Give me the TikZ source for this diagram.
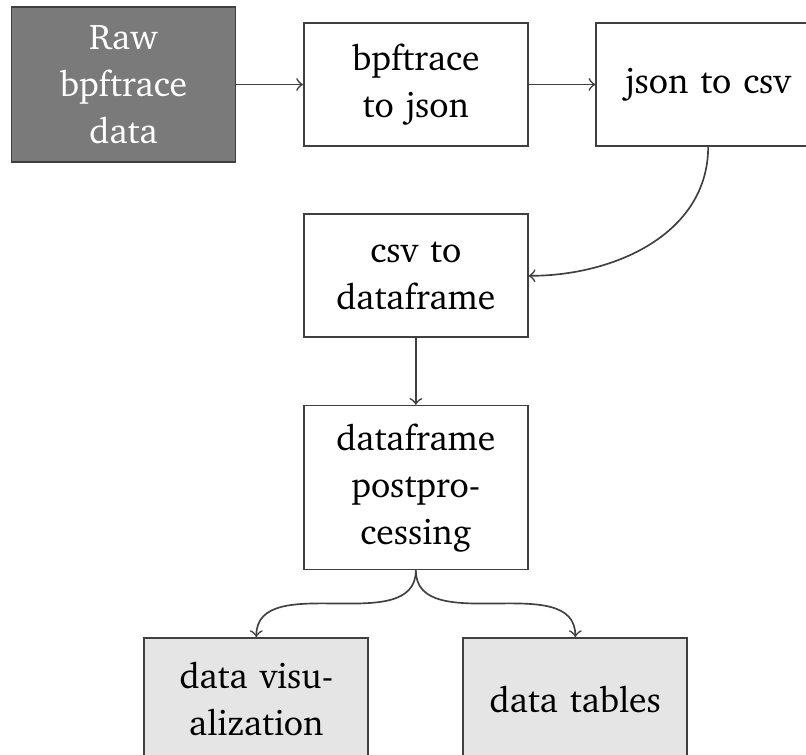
\documentclass[tikz,border=0pt]{standalone}
\usepackage[T1]{fontenc}
\usepackage{charter}
\usepackage{tikz}
\usetikzlibrary{positioning,calc}

\begin{document}
\begin{tikzpicture}[
    node distance=20pt,
    block/.style={draw=black!75, line width=0.5pt, minimum width=67.2pt, minimum height=36.9pt, text width=56pt, inner xsep=5.6pt, inner ysep=5.4pt, align=center, font=\fontsize{10.7}{14.1}\selectfont},
    arrow/.style={->, draw=black!75, line width=0.5pt}
]
    \useasboundingbox (-37.05pt,25.35pt) rectangle ++(241.8pt,-226.5pt);

    \node[block, fill=black!52, text=white] (raw) at (0,0) {Raw\\bpftrace\\data};
    \node[block, right=of raw] (tojson) {bpftrace\\to json};
    \node[block, right=of tojson] (tocsv) {json to csv};
    \node[block, below=of tojson] (todf) {csv to\\dataframe};
    \node[block, below=of todf] (post) {dataframe\\postpro-\\cessing};
    \node[block, fill=gray!20, below=of post, xshift=-47.85pt] (vis) {data visu-\\alization};
    \node[block, fill=gray!20, below=of post, xshift=47.85pt] (tables) {data tables};

    \draw[arrow] (raw) -- (tojson);
    \draw[arrow] (tojson) -- (tocsv);
    \draw[arrow] (tocsv.south) to[out=-90, in=0] (todf.east);
    \draw[arrow] (todf) -- (post);
    \draw[arrow] (post.south) to[out=-90, in=90] (vis.north);
    \draw[arrow] (post.south) to[out=-90, in=90] (tables.north);
\end{tikzpicture}
\end{document}
